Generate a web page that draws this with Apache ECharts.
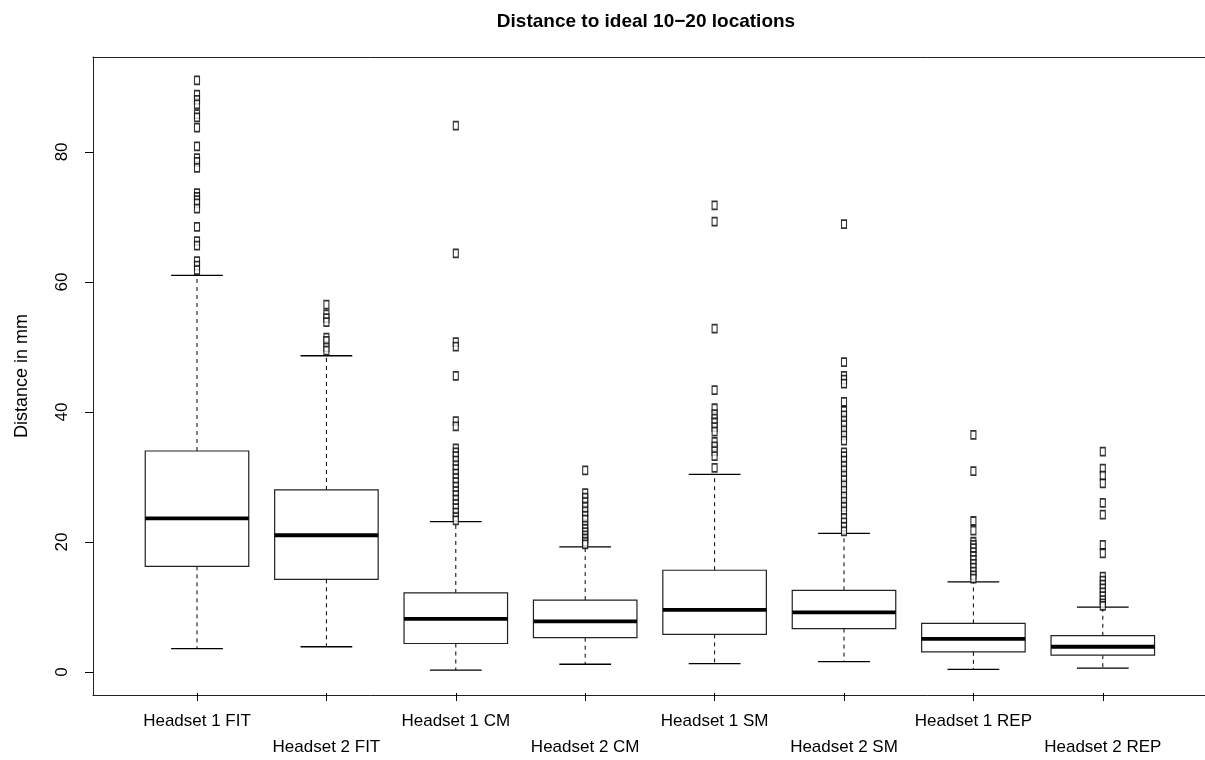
<!DOCTYPE html>
<html>
<head>
<meta charset="utf-8">
<script src="https://cdn.jsdelivr.net/npm/echarts@6/dist/echarts.min.js"></script>
<style>html,body{margin:0;padding:0;background:#fff}#c{width:1205px;height:760px}</style>
</head>
<body>
<div id="c"></div>
<script>
const categories = ['Headset 1 FIT','Headset 2 FIT','Headset 1 CM','Headset 2 CM','Headset 1 SM','Headset 2 SM','Headset 1 REP','Headset 2 REP'];
const whiskerLow  = [3.3, 3.6, 0.0, 0.9, 1.0, 1.3, 0.1, 0.3];
const q1          = [16.0, 14.0, 4.1, 5.0, 5.5, 6.4, 2.8, 2.3];
const median      = [23.4, 20.8, 7.9, 7.5, 9.3, 8.9, 4.8, 3.6];
const q3          = [33.8, 27.8, 11.9, 10.8, 15.4, 12.3, 7.2, 5.3];
const whiskerHigh = [60.9, 48.5, 22.9, 19.0, 30.2, 21.1, 13.6, 9.7];
const outliers1 = [91.0, 88.8, 88.0, 87.3, 85.8, 85.3, 83.7, 80.8, 79.0, 78.4, 77.5, 73.6, 73.0, 72.5, 72.0, 71.2, 68.4, 66.2, 65.5, 63.1, 62.4, 61.7];
const outliers2 = [56.4, 54.9, 54.3, 53.7, 51.3, 50.8, 49.8, 49.3];
const outliers3 = [84.0, 64.3, 50.6, 49.9, 45.4, 38.4, 37.6, 34.2, 33.6, 33.0, 32.3, 31.6, 31.0, 30.3, 29.6, 29.0, 28.3, 27.6, 27.0, 26.3, 25.6, 25.0, 24.3, 23.6, 23.1];
const outliers4 = [30.8, 27.3, 26.6, 25.9, 25.2, 24.5, 23.8, 23.2, 22.3, 21.8, 21.3, 20.8, 20.3, 19.8, 19.4];
const outliers5 = [71.7, 69.2, 52.7, 43.2, 40.4, 39.5, 38.8, 38.2, 37.5, 36.8, 35.2, 34.5, 33.8, 33.0, 31.2];
const outliers6 = [68.8, 47.5, 45.4, 44.8, 44.2, 41.4, 40.0, 39.3, 38.5, 37.8, 37.0, 36.2, 35.4, 33.6, 33.0, 32.3, 31.5, 30.8, 30.0, 29.3, 28.5, 27.7, 26.8, 26.0, 25.2, 24.5, 23.5, 22.8, 22.1, 21.4];
const outliers7 = [36.3, 30.7, 23.0, 21.5, 19.8, 19.3, 18.8, 18.2, 17.6, 17.0, 16.4, 15.8, 15.2, 14.6, 14.1];
const outliers8 = [33.7, 31.1, 30.0, 28.8, 25.8, 24.0, 19.3, 18.0, 14.4, 13.8, 13.2, 12.6, 12.0, 11.4, 10.8, 10.3, 9.9];
const yTicks = [0, 20, 40, 60, 80];
const titleText = 'Distance to ideal 10\u221220 locations';
const yName = 'Distance in mm';

const outlierSets = [outliers1, outliers2, outliers3, outliers4, outliers5, outliers6, outliers7, outliers8];
const boxData = categories.map((c, i) => [i, whiskerLow[i], q1[i], median[i], q3[i], whiskerHigh[i]]);
const outData = [];
outlierSets.forEach((arr, i) => arr.forEach(v => outData.push([i, v])));

const FONT = 'Liberation Sans, Arial, Helvetica, sans-serif';
const YMIN = -3.54, YMAX = 94.6;
const frameLine = {show: true, onZero: false, lineStyle: {color: '#222', width: 1}};

const chart = echarts.init(document.getElementById('c'), null, {renderer: 'canvas'});
chart.setOption({
  backgroundColor: '#fff',
  animation: false,
  title: {
    text: titleText, left: 641, top: 7, textAlign: 'center',
    textStyle: {fontFamily: FONT, fontSize: 19, fontWeight: 'bold', color: '#000'}
  },
  grid: [
    {left: 93, top: 57, width: 1130, height: 638},
    {left: 132.3, top: 57, width: 1035.2, height: 638}
  ],
  xAxis: [
    {gridIndex: 0, type: 'value', min: 0, max: 1, position: 'bottom',
     axisLine: frameLine, axisTick: {show: false}, axisLabel: {show: false}, splitLine: {show: false}},
    {gridIndex: 0, type: 'value', min: 0, max: 1, position: 'top',
     axisLine: frameLine, axisTick: {show: false}, axisLabel: {show: false}, splitLine: {show: false}},
    {gridIndex: 1, type: 'category', data: categories, boundaryGap: true, position: 'bottom',
     axisLine: {show: false, onZero: false},
     axisTick: {show: true, alignWithLabel: true, length: 8, lineStyle: {color: '#000', width: 1}},
     axisLabel: {interval: 0, margin: 15, fontFamily: FONT, fontSize: 17, color: '#000', lineHeight: 26,
       formatter: (v, i) => (i % 2 === 1 ? '\n' : '') + v},
     splitLine: {show: false}}
  ],
  yAxis: [
    {gridIndex: 0, type: 'value', min: YMIN, max: YMAX, position: 'left',
     name: yName, nameLocation: 'middle', nameGap: 62, nameRotate: 90,
     nameTextStyle: {fontFamily: FONT, fontSize: 18, color: '#000'},
     axisLine: frameLine,
     axisTick: {show: true, length: 8, customValues: yTicks, lineStyle: {color: '#000'}},
     axisLabel: {rotate: 90, margin: 22, customValues: yTicks, fontFamily: FONT, fontSize: 17, color: '#000'},
     splitLine: {show: false}},
    {gridIndex: 1, type: 'value', min: YMIN, max: YMAX, show: false}
  ],
  series: [
    {
      type: 'custom', xAxisIndex: 2, yAxisIndex: 1, data: boxData,
      encode: {x: 0, y: [1, 2, 3, 4, 5]},
      renderItem: (params, api) => {
        const x = api.value(0);
        const lo = api.coord([x, api.value(1)]);
        const a = api.coord([x, api.value(2)]);
        const m = api.coord([x, api.value(3)]);
        const b = api.coord([x, api.value(4)]);
        const hi = api.coord([x, api.value(5)]);
        const bw = api.size([1, 0])[0] * 0.8;
        const cx = lo[0];
        const dash = {stroke: '#000', lineWidth: 1, lineDash: [4, 4]};
        const solid = {stroke: '#000', lineWidth: 1.3};
        return {type: 'group', children: [
          {type: 'line', shape: {x1: cx, y1: b[1], x2: cx, y2: hi[1]}, style: dash},
          {type: 'line', shape: {x1: cx, y1: a[1], x2: cx, y2: lo[1]}, style: dash},
          {type: 'line', shape: {x1: cx - bw / 4, y1: hi[1], x2: cx + bw / 4, y2: hi[1]}, style: solid},
          {type: 'line', shape: {x1: cx - bw / 4, y1: lo[1], x2: cx + bw / 4, y2: lo[1]}, style: solid},
          {type: 'rect', shape: {x: cx - bw / 2, y: b[1], width: bw, height: a[1] - b[1]},
           style: {fill: '#fff', stroke: '#222', lineWidth: 1.2}},
          {type: 'line', shape: {x1: cx - bw / 2, y1: m[1], x2: cx + bw / 2, y2: m[1]},
           style: {stroke: '#000', lineWidth: 3.8}}
        ]};
      },
      z: 2
    },
    {
      type: 'scatter', xAxisIndex: 2, yAxisIndex: 1, data: outData,
      symbol: 'rect', symbolSize: [5, 8],
      itemStyle: {color: '#fff', borderColor: '#000', borderWidth: 1.4},
      z: 3
    }
  ]
});
</script>
</body>
</html>
